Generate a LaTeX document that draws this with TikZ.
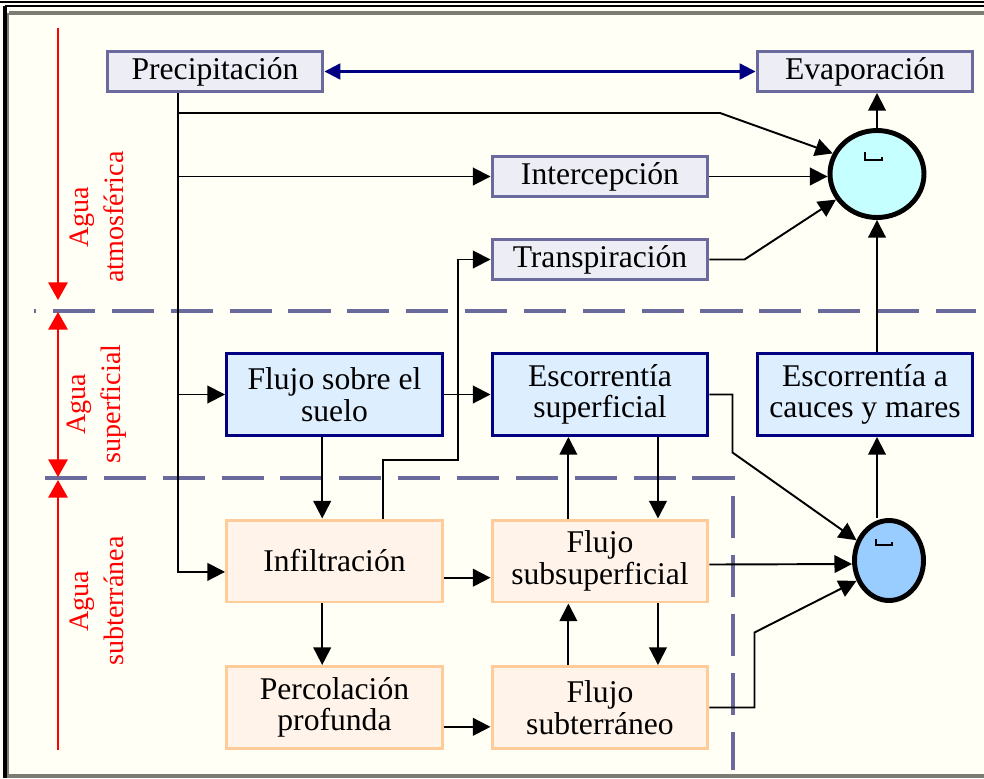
\documentclass[tikz,border=0pt]{standalone}
\usepackage{fontspec}
\setmainfont{Liberation Serif}
\usetikzlibrary{arrows.meta,shapes.geometric}
\definecolor{slate}{HTML}{6A6A9C}
\definecolor{lavbox}{HTML}{EDEDF5}
\definecolor{skybox}{HTML}{DDEEFF}
\definecolor{navyline}{HTML}{000080}
\definecolor{peachbox}{HTML}{FFF3EA}
\definecolor{peachline}{HTML}{FFCC99}
\definecolor{cyancirc}{HTML}{C6FFFF}
\definecolor{bluecirc}{HTML}{99CCFF}
\definecolor{cream}{HTML}{FFFFF6}
\definecolor{framegray}{HTML}{7C7C74}

\begin{document}
\begin{tikzpicture}
[x=0.02cm,y=-0.02cm,
 font=\fontsize{18}{18}\selectfont,
 atmnode/.style={rectangle,draw=slate,fill=lavbox,line width=1.7pt,minimum width=4.32cm,minimum height=0.8cm,inner sep=0pt},
 supnode/.style={rectangle,draw=navyline,fill=skybox,line width=1.7pt,minimum width=4.32cm,minimum height=1.64cm,inner sep=0pt,align=center},
 subnode/.style={rectangle,draw=peachline,fill=peachbox,line width=1.7pt,minimum width=4.32cm,minimum height=1.64cm,inner sep=0pt,align=center},
 sumnode/.style={ellipse,draw=black,line width=2.8pt,inner sep=0pt},
 zone/.style={text=red,rotate=90,align=center,font=\fontsize{16}{20}\selectfont},
 arr/.style={line width=1.1pt,-{Triangle[length=10pt,width=10pt]}},
 navarr/.style={navyline,line width=1.3pt,{Triangle[length=9pt,width=9pt]}-{Triangle[length=9pt,width=9pt]}},
 zarr/.style={red,line width=1.1pt,-{Triangle[length=10pt,width=11pt]}},
 zonesep/.style={draw=slate,line width=2.8pt,dash pattern=on 24pt off 9.5pt}]

\useasboundingbox (0,0) rectangle (984,778);
\fill[cream] (0,0) rectangle (984,778);
\draw[line width=1.2pt] (0,2) -- (984,2);
\draw[line width=1.2pt] (5,6) -- (984,6);
\draw[line width=2pt] (5,6) -- (5,778);
\draw[framegray,line width=2pt] (9,13) -- (984,13);
\draw[framegray,line width=1pt] (8,13) -- (8,778);
\draw[framegray,line width=2pt] (9,776) -- (984,776);

% zones
\draw[zonesep,dash phase=22.7pt] (34,311) -- (976,311);
\draw[zonesep] (45,478) -- (733,478) -- (733,770);

\draw[zarr] (58,28) -- (58,300);
\draw[zarr,{Triangle[length=10pt,width=11pt]}-{Triangle[length=10pt,width=11pt]}] (58,312) -- (58,477);
\draw[zarr] (58,750) -- (58,480);

\node (zatm) at (97,217) [zone] {Agua\\atmosférica};
\node (zsup) at (97,404) [zone] {Agua\\superficial};
\node (zsub) at (97,601) [zone] {Agua\\subterránea};

% boxes
\node (prec) at (215,71.5) [atmnode] {Precipitación};
\node (evap) at (865,71.5) [atmnode] {Evaporación};
\node (inte) at (600,176.5) [atmnode] {Intercepción};
\node (tran) at (600,259.5) [atmnode] {Transpiración};

\node (fsue) at (334.5,394.5) [supnode] {Flujo sobre el\\suelo};
\node (esup) at (600,394.5) [supnode] {Escorrentía\\superficial};
\node (ecau) at (865,394.5) [supnode] {Escorrentía a\\cauces y mares};

\node (infi) at (334.5,561) [subnode] {Infiltración};
\node (fsub) at (600,561) [subnode] {Flujo\\subsuperficial};
\node (perc) at (334.5,707.5) [subnode] {Percolación\\profunda};
\node (fsbt) at (600,707.5) [subnode] {Flujo\\subterráneo};

\node (ca) at (877,174) [sumnode,fill=cyancirc,minimum width=1.88cm,minimum height=1.74cm] {};
\node (cb) at (889,560.5) [sumnode,fill=bluecirc,minimum width=1.38cm,minimum height=1.6cm] {};
\draw[line width=1.2pt] (865,152) -- (865,160) -- (882,160) -- (882,157);
\draw[line width=1.2pt] (876,539) -- (876,545) -- (892,545) -- (892,542);

% connectors
\coordinate (tr) at (178,0);
\coordinate (b1) at (178,113);
\coordinate (k1) at (720,113);
\coordinate (k2) at (458,460);

\draw[navarr] (prec.east) -- (evap.west);
\draw[arr] (prec.south -| tr) |- ([yshift=-6.2pt]infi.west);
\draw[arr] (b1) -- (k1) -- (ca.155);
\draw[arr] (tr |- inte) -- (inte.west);
\draw[arr] (inte.east) -- (ca.west |- inte.east);
\draw[arr] (tran.east) -- ++(35,0) -- (ca.212);
\draw[arr] (tr |- fsue) -- (fsue.west);
\draw[arr] (fsue.east) -- (esup.west);
\draw[arr] ([xshift=-7pt]fsue.south) -- ([xshift=-7pt]infi.north);
\draw[arr] ([xshift=27.5pt]infi.north) |- (k2) |- (tran.west);
\draw[arr] ([yshift=-9.5pt]infi.east) -- ([yshift=-9.5pt]fsub.west);
\draw[arr] ([xshift=-7pt]infi.south) -- ([xshift=-7pt]perc.north);
\draw[arr] ([yshift=-11pt]perc.east) -- ([yshift=-11pt]fsbt.west);

\foreach \from/\to in {fsub.north/esup.south, fsbt.north/fsub.south}
	\draw[arr] ([xshift=-18pt]\from) -- ([xshift=-18pt]\to);
\foreach \from/\to in {esup.south/fsub.north, fsub.south/fsbt.north}
	\draw[arr] ([xshift=33pt]\from) -- ([xshift=33pt]\to);

\draw[arr] (esup.east) -- ++(23,0) -- ++(0,58) -- (cb.148);
\draw[arr] ([yshift=-2pt]fsub.east) -- ([yshift=-2pt]cb.west);
\draw[arr] (fsbt.east) -- ++(45,0) -- ++(0,-75) -- (cb.212);
\draw[arr] (cb.north -| ca.south) -- (ecau.south -| ca.south);
\draw[arr] (ecau.north -| ca.south) -- (ca.south);
\draw[arr] (ca.north) -- (evap.south -| ca.north);

\end{tikzpicture}
\end{document}
